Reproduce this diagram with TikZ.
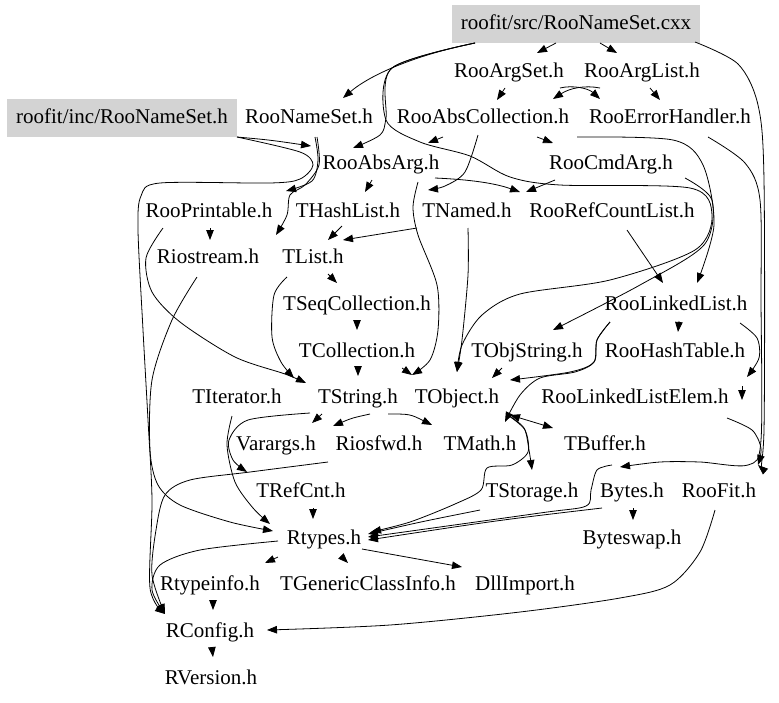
\documentclass[tikz,border=0pt]{standalone}
\usepackage{fontspec}
\setmainfont{Liberation Serif}
\usetikzlibrary{arrows.meta}
\definecolor{filegray}{RGB}{211,211,211}
\tikzset{
  file/.style={inner xsep=9pt, inner ysep=0pt, minimum height=38pt,
    text height=15pt, text depth=5pt, font=\fontsize{21}{25}\selectfont},
  root/.style={file, fill=filegray},
  dep/.style={-{Triangle[length=10pt,width=7.5pt]}, line width=0.8pt},
  twoway/.style={{Triangle[length=10pt,width=7.5pt]}-{Triangle[length=10pt,width=7.5pt]}, line width=0.8pt}
}
\begin{document}
\begin{tikzpicture}[x=1pt,y=-1pt]
  \useasboundingbox (0,0) rectangle (779,702);
  \node[root] (cxx) at (576,24) {roofit/src/RooNameSet.cxx};
  \node[root] (incNS) at (122,118) {roofit/inc/RooNameSet.h};
  \node[file] (ArgSet) at (509,72) {RooArgSet.h};
  \node[file] (ArgList) at (642,72) {RooArgList.h};
  \node[file] (NameSet) at (309,118) {RooNameSet.h};
  \node[file] (AbsColl) at (483,118) {RooAbsCollection.h};
  \node[file] (ErrH) at (670,118) {RooErrorHandler.h};
  \node[file] (AbsArg) at (381,164) {RooAbsArg.h};
  \node[file] (CmdArg) at (611,164) {RooCmdArg.h};
  \node[file] (Printable) at (209,212) {RooPrintable.h};
  \node[file] (HashList) at (348,212) {THashList.h};
  \node[file] (Named) at (467,212) {TNamed.h};
  \node[file] (RefCount) at (612,212) {RooRefCountList.h};
  \node[file] (Riostream) at (208,258) {Riostream.h};
  \node[file] (TList) at (313,258) {TList.h};
  \node[file] (SeqColl) at (357,305) {TSeqCollection.h};
  \node[file] (LinkedList) at (676,305) {RooLinkedList.h};
  \node[file] (TCollection) at (357,352) {TCollection.h};
  \node[file] (ObjString) at (527,352) {TObjString.h};
  \node[file] (HashTable) at (675,352) {RooHashTable.h};
  \node[file] (TIterator) at (237,398) {TIterator.h};
  \node[file] (TString) at (358,398) {TString.h};
  \node[file] (TObject) at (457,398) {TObject.h};
  \node[file] (LLElem) at (635,398) {RooLinkedListElem.h};
  \node[file] (Varargs) at (276,445) {Varargs.h};
  \node[file] (Riosfwd) at (379,445) {Riosfwd.h};
  \node[file] (TMath) at (480,445) {TMath.h};
  \node[file] (TBuffer) at (605,445) {TBuffer.h};
  \node[file] (TRefCnt) at (301,492) {TRefCnt.h};
  \node[file] (TStorage) at (532,492) {TStorage.h};
  \node[file] (Bytes) at (632,492) {Bytes.h};
  \node[file] (RooFit) at (719,492) {RooFit.h};
  \node[file] (Rtypes) at (324,539) {Rtypes.h};
  \node[file] (Byteswap) at (632,539) {Byteswap.h};
  \node[file] (Rtypeinfo) at (210,585) {Rtypeinfo.h};
  \node[file] (GenCI) at (368,585) {TGenericClassInfo.h};
  \node[file] (DllImport) at (525,585) {DllImport.h};
  \node[file] (RConfig) at (210,632) {RConfig.h};
  \node[file] (RVersion) at (211,679) {RVersion.h};

  \draw[dep] ([shift={(-20,19)}]cxx.center) -- ([shift={(28,-19)}]ArgSet.center);
  \draw[dep] ([shift={(24,19)}]cxx.center) -- ([shift={(-25,-19)}]ArgList.center);
  \draw[dep] ([shift={(-101,19)}]cxx.center) .. controls (415,55) and (370,75) .. ([shift={(34,-20)}]NameSet.center);
  \draw[dep] plot[smooth] coordinates {([shift={(-101,19)}]cxx.center) (392,68) (386,120) (420,142) (470,156) (510,177) (560,185) (690,188) (712,215) (695,250) (610,280) (520,294) (482,315) (462,345) ([shift={(0,-26)}]TObject.center)};
  \draw[dep] plot[smooth] coordinates {([shift={(-101,19)}]cxx.center) (392,68) (386,118) (380,135) ([shift={(-28,-16)}]AbsArg.center)};
  \draw[dep] plot[smooth] coordinates {([shift={(119,18)}]cxx.center) (738,64) (758,105) (764,180) (764,430) ([shift={(39,-27)}]RooFit.center)};
  \draw[dep] ([shift={(-4,16)}]ArgSet.center) -- ([shift={(14,-18)}]AbsColl.center);
  \draw[dep] ([shift={(8,16)}]ArgList.center) -- ([shift={(-10,-18)}]ErrH.center);
  \draw[dep] ([shift={(-42,16)}]ArgList.center) .. controls (585,85) and (570,88) .. ([shift={(70,-19)}]AbsColl.center);
  \draw[dep] ([shift={(51,16)}]ArgSet.center) .. controls (572,85) and (588,88) .. ([shift={(-70,-19)}]ErrH.center);
  \draw[dep] ([shift={(115,19)}]incNS.center) .. controls (270,140) .. ([shift={(-70,-18)}]AbsArg.center);
  \draw[dep] plot[smooth] coordinates {([shift={(115,19)}]incNS.center) (300,152) (313,165) (300,179) (270,183) (160,183) (141,196) (138,230) (143,330) (148,420) (152,500) (150,588) ([shift={(-45,-18)}]RConfig.center)};
  \draw[dep] plot[smooth] coordinates {([shift={(6,19)}]NameSet.center) (318,160) (312,181) ([shift={(77,-21)}]Printable.center)};
  \draw[dep] plot[smooth] coordinates {([shift={(8,19)}]NameSet.center) (319,165) (305,185) (290,195) (287,215) ([shift={(68,-23)}]Riostream.center)};
  \draw[dep] ([shift={(-40,19)}]AbsColl.center) -- ([shift={(47,-21)}]AbsArg.center);
  \draw[dep] ([shift={(54,19)}]AbsColl.center) -- ([shift={(-58,-21)}]CmdArg.center);
  \draw[dep] plot[smooth] coordinates {([shift={(-5,17)}]AbsColl.center) (465,172) (445,186) ([shift={(-39,-22)}]Named.center)};
  \draw[dep] plot[smooth] coordinates {([shift={(37,18)}]AbsArg.center) (413,207) (418,235) (437,285) (438,330) (430,360) ([shift={(-45,-23)}]TObject.center)};
  \draw[dep] ([shift={(-50,16)}]Named.center) -- ([shift={(30,-18)}]TList.center);
  \draw[dep] ([shift={(-9,16)}]AbsArg.center) -- ([shift={(17,-20)}]HashList.center);
  \draw[dep] ([shift={(54,14)}]AbsArg.center) .. controls (480,180) and (500,185) .. ([shift={(-92,-20)}]RefCount.center);
  \draw[dep] ([shift={(-56,16)}]CmdArg.center) -- ([shift={(-86,-20)}]RefCount.center);
  \draw[dep] ([shift={(1,16)}]Printable.center) -- ([shift={(2,-18)}]Riostream.center);
  \draw[dep] ([shift={(-6,14)}]HashList.center) -- ([shift={(15,-18)}]TList.center);
  \draw[dep] plot[smooth] coordinates {([shift={(-46,16)}]Printable.center) (146,258) (152,292) (180,322) (235,357) (285,374) ([shift={(-52,-15)}]TString.center)};
  \draw[dep] plot[smooth] coordinates {([shift={(-26,19)}]TList.center) (274,295) (272,337) (281,362) ([shift={(-64,-20)}]TString.center)};
  \draw[dep] plot[smooth] coordinates {([shift={(-11,19)}]Riostream.center) (172,320) (152,380) (150,450) (158,485) (180,505) (230,522) ([shift={(-51,-8)}]Rtypes.center)};
  \draw[dep] plot[smooth] coordinates {([shift={(-46,2)}]Rtypes.center) (200,550) (160,565) (152,590) ([shift={(-45,-18)}]RConfig.center)};
  \draw[dep] plot[smooth] coordinates {([shift={(-51,17)}]Riosfwd.center) (250,472) (190,480) (165,495) (156,530) (152,575) ([shift={(-45,-18)}]RConfig.center)};
  \draw[dep] plot[smooth] coordinates {([shift={(-5,18)}]TIterator.center) (227,445) (235,482) (253,508) ([shift={(-54,-15)}]Rtypes.center)};
  \draw[dep] plot[smooth] coordinates {([shift={(-48,15)}]TString.center) (248,420) (229,440) (233,460) ([shift={(-54,-20)}]TRefCnt.center)};
  \draw[dep] ([shift={(-36,16)}]TString.center) -- ([shift={(36,-22)}]Varargs.center);
  \draw[dep] ([shift={(12,16)}]TString.center) .. controls (352,418) .. ([shift={(-46,-19)}]Riosfwd.center);
  \draw[dep] ([shift={(30,16)}]TString.center) .. controls (410,414) .. ([shift={(-48,-20)}]TMath.center);
  \draw[dep] plot[smooth] coordinates {([shift={(-66,17)}]LinkedList.center) (597,340) (594,362) (575,372) (540,378) (520,395) ([shift={(25,-23)}]TMath.center)};
  \draw[dep] plot[smooth] coordinates {([shift={(-66,17)}]LinkedList.center) (597,340) (594,362) (570,372) ([shift={(53,-18)}]TObject.center)};
  \draw[dep] ([shift={(-25,16)}]ObjString.center) -- ([shift={(35,-20)}]TObject.center);
  \draw[twoway] ([shift={(53,17)}]TObject.center) -- ([shift={(-52,-17)}]TBuffer.center);
  \draw[dep] plot[smooth] coordinates {([shift={(51,17)}]TObject.center) (524,428) (529,450) ([shift={(0,-22)}]TStorage.center)};
  \draw[dep] plot[smooth] coordinates {([shift={(52,18)}]TObject.center) (525,430) (528,452) (512,465) (487,468) (481,490) (455,504) (410,522) ([shift={(47,-7)}]Rtypes.center)};
  \draw[dep] ([shift={(-52,18)}]TStorage.center) .. controls (420,522) .. ([shift={(44,-5)}]Rtypes.center);
  \draw[dep] plot[smooth] coordinates {([shift={(38,19)}]ErrH.center) (745,163) (760,200) (761,300) (761,440) (748,465) (700,462) (660,462) ([shift={(-12,-25)}]Bytes.center)};
  \draw[dep] plot[smooth] coordinates {([shift={(-20,-27)}]Bytes.center) (597,470) (591,490) (586,506) (540,513) ([shift={(44,-2)}]Rtypes.center)};
  \draw[dep] ([shift={(-30,16)}]Bytes.center) .. controls (500,520) .. ([shift={(44,1)}]Rtypes.center);
  \draw[dep] ([shift={(-46,18)}]Rtypes.center) -- ([shift={(55,-22)}]Rtypeinfo.center);
  \draw[dep] ([shift={(17,17)}]Rtypes.center) -- ([shift={(-20,-22)}]GenCI.center);
  \draw[dep] ([shift={(38,10)}]Rtypes.center) -- ([shift={(-63,-18)}]DllImport.center);
  \draw[dep] ([shift={(3,16)}]Rtypeinfo.center) -- ([shift={(3,-22)}]RConfig.center);
  \draw[dep] ([shift={(2,16)}]RConfig.center) -- ([shift={(2,-22)}]RVersion.center);
  \draw[dep] plot[smooth] coordinates {([shift={(-4,18)}]RooFit.center) (700,552) (670,585) (620,598) (520,612) (390,625) ([shift={(57,-2)}]RConfig.center)};
  \draw[dep] ([shift={(1,16)}]Bytes.center) -- ([shift={(1,-19)}]Byteswap.center);
  \draw[dep] ([shift={(12,16)}]TRefCnt.center) -- ([shift={(-11,-20)}]Rtypes.center);
  \draw[dep] ([shift={(15,16)}]TList.center) -- ([shift={(-20,-22)}]SeqColl.center);
  \draw[dep] ([shift={(0,16)}]SeqColl.center) -- ([shift={(0,-22)}]TCollection.center);
  \draw[dep] ([shift={(1,16)}]TCollection.center) -- ([shift={(0,-22)}]TString.center);
  \draw[dep] ([shift={(45,16)}]TCollection.center) -- ([shift={(-45,-23)}]TObject.center);
  \draw[dep] ([shift={(15,18)}]RefCount.center) -- ([shift={(-13,-22)}]LinkedList.center);
  \draw[dep] plot[smooth] coordinates {([shift={(94,19)}]AbsColl.center) (673,140) (703,165) (714,225) ([shift={(21,-22)}]LinkedList.center)};
  \draw[dep] plot[smooth] coordinates {([shift={(74,14)}]CmdArg.center) (712,200) (704,245) (640,285) ([shift={(26,-22)}]ObjString.center)};
  \draw[dep] ([shift={(3,16)}]LinkedList.center) -- ([shift={(3,-20)}]HashTable.center);
  \draw[dep] plot[smooth] coordinates {([shift={(64,18)}]LinkedList.center) (757,338) (759,358) ([shift={(112,-21)}]LLElem.center)};
  \draw[dep] ([shift={(67,34)}]HashTable.center) -- ([shift={(107,2)}]LLElem.center);
  \draw[dep] plot[smooth] coordinates {([shift={(92,20)}]LLElem.center) (752,430) (761,448) ([shift={(39,-27)}]RooFit.center)};
  \draw[dep] plot[smooth] coordinates {([shift={(1,16)}]Named.center) (468,275) (462,340) ([shift={(0,-26)}]TObject.center)};
\end{tikzpicture}
\end{document}
